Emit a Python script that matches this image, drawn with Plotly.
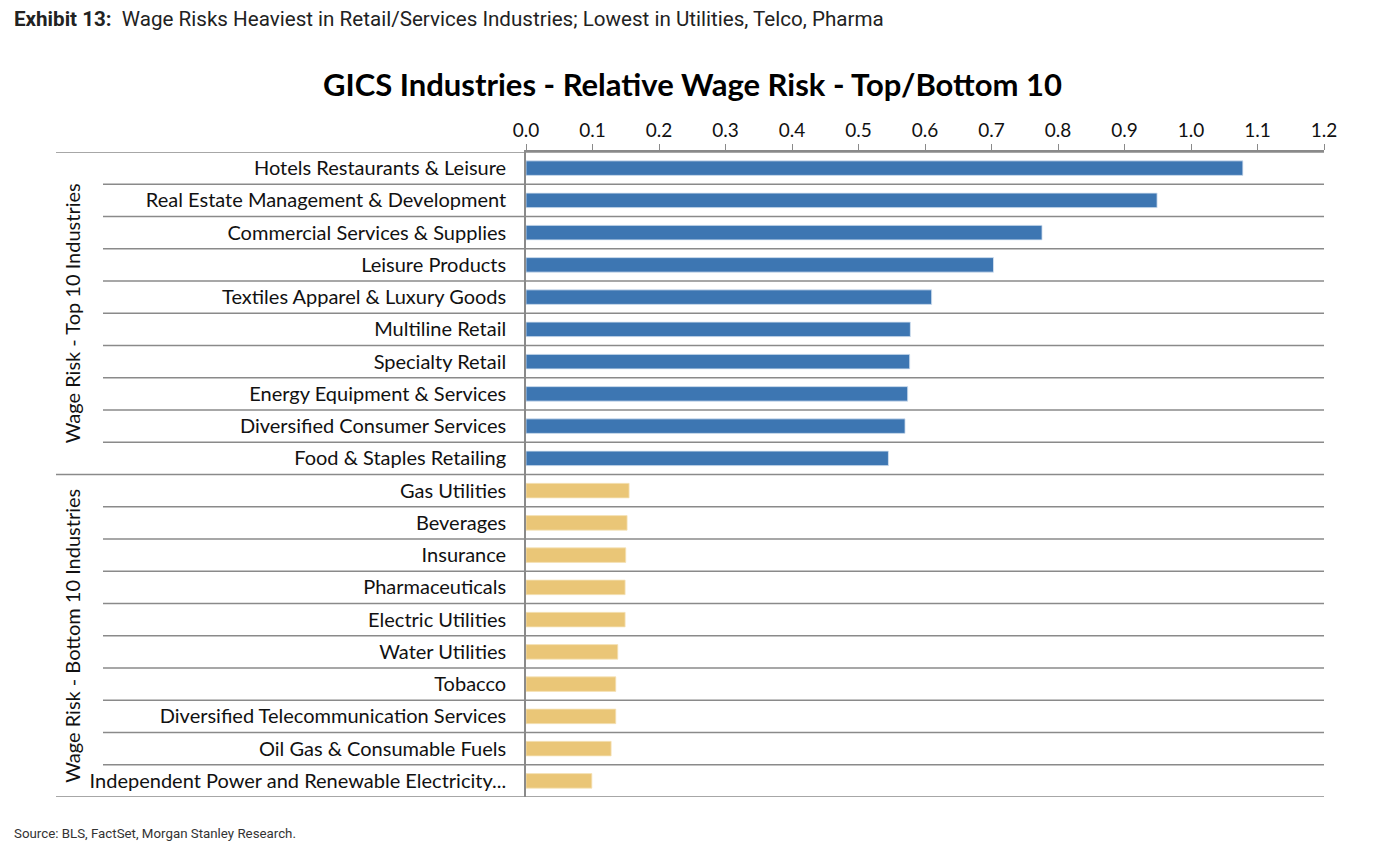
import plotly.graph_objects as go

top_categories = [
    "Hotels Restaurants & Leisure",
    "Real Estate Management & Development",
    "Commercial Services & Supplies",
    "Leisure Products",
    "Textiles Apparel & Luxury Goods",
    "Multiline Retail",
    "Specialty Retail",
    "Energy Equipment & Services",
    "Diversified Consumer Services",
    "Food & Staples Retailing",
]
top_values = [1.078, 0.949, 0.776, 0.703, 0.610, 0.578, 0.577, 0.574, 0.570, 0.545]

bottom_categories = [
    "Gas Utilities",
    "Beverages",
    "Insurance",
    "Pharmaceuticals",
    "Electric Utilities",
    "Water Utilities",
    "Tobacco",
    "Diversified Telecommunication Services",
    "Oil Gas & Consumable Fuels",
    "Independent Power and Renewable Electricity...",
]
bottom_values = [0.155, 0.152, 0.150, 0.149, 0.149, 0.138, 0.135, 0.135, 0.128, 0.099]

x_ticks = [0.0, 0.1, 0.2, 0.3, 0.4, 0.5, 0.6, 0.7, 0.8, 0.9, 1.0, 1.1, 1.2]
group_labels = ["Wage Risk - Top 10 Industries", "Wage Risk - Bottom 10 Industries"]

all_categories = top_categories + bottom_categories
n = len(all_categories)

FONT = "Lato"
OFF = 8  # page body margin
W, H = 1360, 834
PL, PR, PT, PB = 526, 1324, 152, 797  # desired plot area in screen pixels
L = PL - OFF
R = W - (PR - OFF)
T = PT - OFF
B = H - (PB - OFF)

def sx(px):
    return (px - PL) / (PR - PL)

def sy(py):
    return (PB - py) / (PB - PT)

fig = go.Figure()
fig.add_trace(go.Bar(
    x=top_values, y=top_categories, orientation="h",
    marker=dict(color="#3D76B2", line=dict(color="#D7E3F1", width=0.8)),
    width=0.45, showlegend=False,
))
fig.add_trace(go.Bar(
    x=bottom_values, y=bottom_categories, orientation="h",
    marker=dict(color="#EAC677", line=dict(color="#F5E2B8", width=0.8)),
    width=0.45, showlegend=False,
))

shapes = []
grid_color = "#8A8A8A"
for k in range(n + 1):
    yb = k - 0.5
    outer = k in (0, len(top_categories), n)
    x0 = sx(56) if outer else sx(103)
    shapes.append(dict(type="line", xref="paper", yref="y", x0=x0, x1=1.0,
                       y0=yb, y1=yb, line=dict(color=grid_color, width=1.6)))

annotations = []
group_centers = [(len(top_categories) - 1) / 2, len(top_categories) + (len(bottom_categories) - 1) / 2]
for lbl, yc in zip(group_labels, group_centers):
    annotations.append(dict(text=lbl, xref="paper", yref="y", x=sx(72), y=yc,
                            textangle=-90, showarrow=False, xanchor="center", yanchor="middle",
                            font=dict(family=FONT, size=20, color="#111")))

annotations.append(dict(
    text="<b>Exhibit 13:</b>  Wage Risks Heaviest in Retail/Services Industries; Lowest in Utilities, Telco, Pharma",
    xref="paper", yref="paper", x=sx(12), y=sy(19),
    xanchor="left", yanchor="middle", showarrow=False,
    font=dict(family="Roboto", size=20.6, color="#222")))
annotations.append(dict(
    text="Source: BLS, FactSet, Morgan Stanley Research.",
    xref="paper", yref="paper", x=sx(12), y=sy(833),
    xanchor="left", yanchor="middle", showarrow=False,
    font=dict(family="Roboto", size=13.3, color="#333")))
annotations.append(dict(
    text="<b>GICS Industries - Relative Wage Risk - Top/Bottom 10</b>",
    xref="paper", yref="paper", x=sx(692), y=sy(84),
    xanchor="center", yanchor="middle", showarrow=False,
    font=dict(family=FONT, size=31, color="#000")))

fig.update_layout(
    width=W, height=H,
    margin=dict(l=L, r=R, t=T, b=B),
    paper_bgcolor="white", plot_bgcolor="white",
    bargap=0.5,
    shapes=shapes,
    annotations=annotations,
)
fig.update_xaxes(
    side="top", range=[0, 1.2], tickvals=x_ticks, tickformat=".1f",
    showgrid=False, zeroline=False, showline=True, linecolor=grid_color, linewidth=1.6,
    ticks="outside", ticklen=6, tickcolor=grid_color, tickwidth=1.2,
    tickfont=dict(family=FONT, size=19, color="#111"),
)
fig.update_yaxes(
    type="category", categoryorder="array", categoryarray=all_categories,
    range=[n - 0.5, -0.5], showgrid=False, zeroline=False,
    showline=True, linecolor=grid_color, linewidth=1.6,
    ticks="", ticklabelstandoff=14,
    tickfont=dict(family=FONT, size=20, color="#111"),
)

fig.write_html("out.html")
